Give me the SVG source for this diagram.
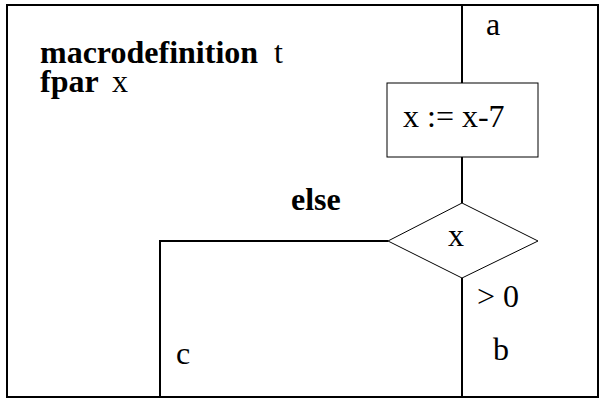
<svg xmlns="http://www.w3.org/2000/svg" width="605" height="400" viewBox="0 0 605 400">
<style>
text{font-family:"Liberation Serif","Times New Roman",serif;font-size:32px;fill:#000}
.b{font-weight:bold}
.n{fill:#fff;stroke:#000;stroke-width:1}
.c{fill:none;stroke:#000;stroke-width:2}
</style>
<rect x="0" y="0" width="605" height="400" fill="#fff"/>
<rect id="frame" x="7" y="5" width="591" height="392" fill="none" stroke="#000" stroke-width="2"/>
<g id="header">
<text y="63"><tspan x="40" class="b">macrodefinition</tspan><tspan x="274">t</tspan></text>
<text y="92"><tspan x="40" class="b">fpar</tspan><tspan x="112">x</tspan></text>
</g>
<g id="connectors">
<path class="c" d="M462 5V83M462 157V203M462 278V397M388 241H160V397"/>
</g>
<g id="task"><rect class="n" x="387" y="83" width="151" height="74"/><text x="403" y="127">x := x-7</text></g>
<g id="decision"><polygon class="n" points="388,241 462,203 538,241 462,278"/><text x="456" y="246" text-anchor="middle">x</text></g>
<g id="labels">
<text x="486" y="35">a</text>
<text x="291" y="210" class="b">else</text>
<text x="477" y="307">&gt; 0</text>
<text x="493" y="360">b</text>
<text x="176" y="364">c</text>
</g>
</svg>
